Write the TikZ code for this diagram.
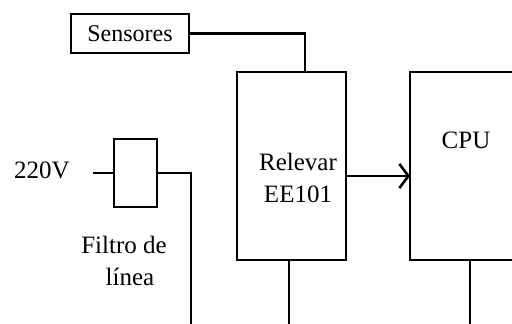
\documentclass[tikz,border=0pt]{standalone}
\usepackage{fontspec}
\setmainfont{Liberation Serif}
\usetikzlibrary{arrows.meta}
\begin{document}
\begin{tikzpicture}[x=1pt,y=-1pt,line width=2.6pt,
  box/.style={draw,line width=2.6pt,inner sep=0pt},
  lbl/.style={inner sep=0pt,font=\fontsize{25}{32}\selectfont,align=center}]
\useasboundingbox (0,0) rectangle (512,324);
% boxes
\node[box,minimum width=118pt,minimum height=39pt,font=\fontsize{24}{28}\selectfont] (sens) at (130,33.5) {Sensores};
\node[box,minimum width=109pt,minimum height=188pt] (rel) at (291.5,166) {};
\node[lbl] (reltxt) at (298,177.5) {Relevar\\EE101};
\node[box,minimum width=43pt,minimum height=68pt] (filt) at (135.5,173) {};
% CPU box open to the right
\coordinate (cputr) at (520,72);
\coordinate (cputl) at (410,72);
\coordinate (cpubl) at (410,260);
\coordinate (cpubr) at (520,260);
\draw (cputr) -- (cputl) -- (cpubl) -- (cpubr);
\node[lbl] (cputxt) at (466,140) {CPU};
% texts
\node[lbl] (v220) at (42,170) {220V};
\node[lbl] (filttxt) at (124,261) {Filtro de\\\hspace*{12pt}línea};
% connectors
\coordinate (c1) at (305,72);
\draw (sens.east) -| (c1);
\coordinate (a1) at (346,176);
\coordinate (a2) at (410,176);
\draw[-{Straight Barb[length=9pt,width=24pt,line width=2.6pt]}] (a1) -- (a2);
\coordinate (in) at (93,173);
\draw (in) -- (filt.west);
\coordinate (f1) at (191,326);
\draw (filt.east) -| (f1);
\coordinate (r1) at (289,260);
\coordinate (r2) at (289,326);
\draw (r1) -- (r2);
\coordinate (p1) at (470,260);
\coordinate (p2) at (470,326);
\draw (p1) -- (p2);
\end{tikzpicture}
\end{document}
